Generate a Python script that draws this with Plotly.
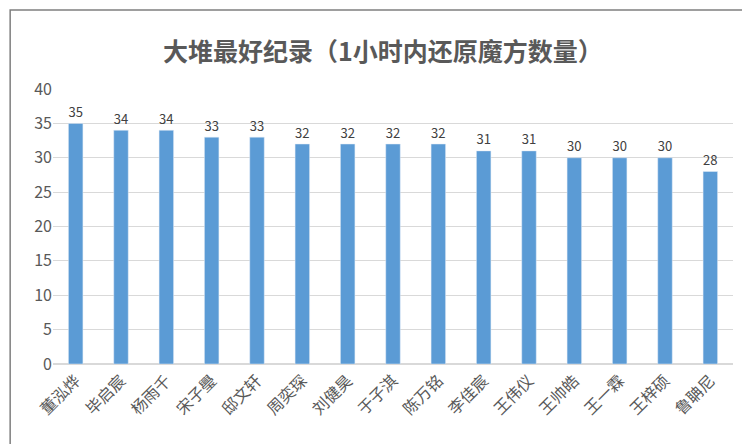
import plotly.graph_objects as go

names = ["董泓烨","毕启宸","杨雨千","宋子璺","邸文轩","周奕琛","刘健昊","于子淇","陈万铭","李佳宸","王伟仪","王帅皓","王一霖","王梓硕","鲁聃尼"]
values = [35,34,34,33,33,32,32,32,32,31,31,30,30,30,28]
yticks = [0,5,10,15,20,25,30,35,40]

fig = go.Figure(go.Bar(x=names, y=values, text=values, textposition="outside",
                       marker_color="#5B9BD5", width=0.32,
                       textfont=dict(size=15, color="#404040"), cliponaxis=False))
fig.update_layout(
    width=750, height=444, margin=dict(l=45, r=25, t=81, b=88, autoexpand=False),
    paper_bgcolor="white", plot_bgcolor="white",
    font=dict(family="Noto Sans CJK SC", color="#595959"),
    title=dict(text="<b>大堆最好纪录（1小时内还原魔方数量）</b>", x=0.5, xanchor="center", y=0.92,
               font=dict(size=25, color="#595959", family="Noto Sans CJK SC")),
    showlegend=False,
    shapes=[dict(type="rect", xref="paper", yref="paper", x0=-0.063, x1=1.031, y0=-0.305, y1=1.287,
                 line=dict(color="#7f7f7f", width=1.5))],
)
fig.update_yaxes(range=[0,40], tickvals=yticks, showgrid=True, gridcolor="#d9d9d9", automargin=False,
                 zeroline=True, zerolinecolor="#d9d9d9", tickfont=dict(size=16, color="#595959"))
fig.update_xaxes(tickangle=-45, tickfont=dict(size=16, color="#595959"), showline=True,
                 linecolor="#d9d9d9", automargin=False)
fig.write_html("out.html")
